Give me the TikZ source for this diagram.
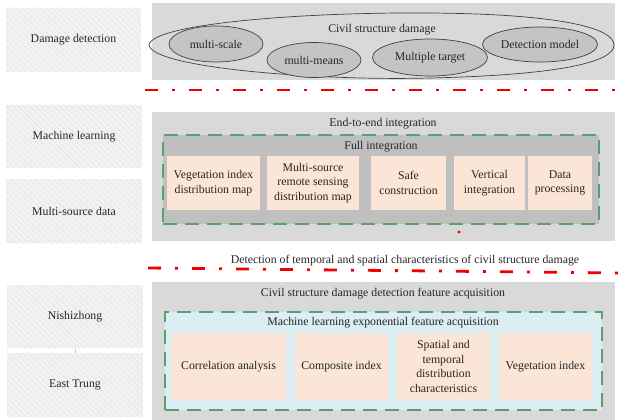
\documentclass[tikz,border=0pt]{standalone}
\usepackage{fontspec}
\setmainfont{Liberation Serif}
\usetikzlibrary{shapes.geometric,patterns.meta}
\definecolor{panelgray}{HTML}{D9D9D9}
\definecolor{innergray}{HTML}{BFBFBF}
\definecolor{innerblue}{HTML}{DAEEF3}
\definecolor{peach}{HTML}{FBE5D6}
\definecolor{dgreen}{HTML}{5A9E74}
\definecolor{ellgray}{HTML}{C4C4C4}
\definecolor{txtc}{HTML}{262626}
\begin{document}
\begin{tikzpicture}[x=1pt,y=-1pt,
  txt/.style={font=\fontsize{11.8}{14.5}\selectfont, text=txtc, align=center, inner sep=0pt},
  leftbox/.style={txt, draw=none, inner sep=0pt,
    preaction={fill=black!5},
    pattern={Lines[angle=-45,distance=4pt,line width=0.5pt]}, pattern color=black!13},
  panel/.style={fill=panelgray, inner sep=0pt, draw=none},
  dashgreen/.style={draw=dgreen, line width=2.2pt, dash pattern=on 14pt off 8pt, inner sep=0pt},
  peachbox/.style={txt, fill=peach, inner sep=0pt},
  ell/.style={txt, ellipse, draw=black!75, line width=0.7pt, inner sep=0pt},
  outline/.style={draw=black!75, line width=0.7pt},
  reddash/.style={draw=red!95!black, line width=2.8pt, dash pattern=on 13pt off 14pt on 3pt off 14pt}
]
\useasboundingbox (0,0) rectangle (622,420);
\fill[white] (0,0) rectangle (622,420);

% left column
\node[leftbox, minimum width=135, minimum height=64] (dd) at (73.5,40) {Damage detection};
\node[leftbox, minimum width=136, minimum height=63] (ml) at (74,136.5) {Machine learning};
\node[leftbox, minimum width=136, minimum height=64] (msd) at (74,211) {Multi-source data};
\node[leftbox, minimum width=136, minimum height=63] (nz) at (75,316.5) {Nishizhong};
\node[leftbox, minimum width=136, minimum height=64] (et) at (75,385) {East Trung};
\draw[draw=cyan!30!black!25, line width=0.8pt] (nz.south) -- (et.north);

% panel 1
\node[panel, minimum width=463, minimum height=77] (p1) at (383.5,41.5) {};
\draw[outline] (149,45) .. controls (152,24) and (300,12) .. (430,13)
  .. controls (560,14) and (614,28) .. (614,45)
  .. controls (614,62) and (560,75) .. (430,78)
  .. controls (320,81) and (152,68) .. (149,45) -- cycle;
\node[txt] (csd) at (382,30) {Civil structure damage};
\node[ell, fill=ellgray, minimum width=94, minimum height=36] (mscale) at (216,44) {multi-scale};
\node[ell, fill=ellgray, minimum width=94, minimum height=35] (mmeans) at (314,60) {multi-means};
\node[ell, fill=ellgray, minimum width=115, minimum height=37] (mtarget) at (430,57.5) {Multiple target};
\node[ell, fill=ellgray, minimum width=115, minimum height=35] (dmodel) at (540,44.5) {Detection model};

% red line 1
\coordinate (r1a) at (145,90);
\coordinate (r1b) at (622,90);
\draw[reddash] (r1a) -- (r1b);

% panel 2
\node[panel, minimum width=463, minimum height=129] (p2) at (383.5,176.5) {};
\node[txt] (e2e) at (383,124) {End-to-end integration};
\node[dashgreen, fill=innergray, minimum width=436, minimum height=89] (in2) at (381,179.5) {};
\node[txt] (full) at (381,147) {Full integration};
\node[peachbox, minimum width=93, minimum height=54] (veg) at (213.5,183) {Vegetation index\\distribution map};
\node[peachbox, minimum width=92, minimum height=54] (msr) at (313,183) {Multi-source\\remote sensing\\distribution map};
\node[peachbox, minimum width=75, minimum height=54] (safe) at (408.5,183) {Safe\\construction};
\node[peachbox, minimum width=71, minimum height=54] (vert) at (489.5,183) {Vertical\\integration};
\node[peachbox, minimum width=64, minimum height=54] (data) at (560,183) {Data\\processing};
\fill[red!95!black] (459,232) circle (1.6);

% middle caption and red line 2
\node[txt] (det) at (405,261) {Detection of temporal and spatial characteristics of civil structure damage};
\coordinate (r2a) at (148,268);
\coordinate (r2b) at (622,273);
\draw[reddash] (r2a) -- (r2b);

% panel 3
\node[panel, minimum width=463, minimum height=138] (p3) at (383.5,351) {};
\node[txt] (cfa) at (383,294) {Civil structure damage detection feature acquisition};
\node[dashgreen, fill=innerblue, minimum width=437, minimum height=98] (in3) at (383.5,361) {};
\node[txt] (mlf) at (383,323) {Machine learning exponential feature acquisition};
\node[peachbox, minimum width=115, minimum height=67] (corr) at (228.5,366.5) {Correlation analysis};
\node[peachbox, minimum width=93, minimum height=67] (comp) at (341.5,366.5) {Composite index};
\node[peachbox, minimum width=93, minimum height=67] (spat) at (443.5,366.5) {Spatial and\\temporal\\distribution\\characteristics};
\node[peachbox, minimum width=93, minimum height=67] (vegi) at (545.5,366.5) {Vegetation index};
\end{tikzpicture}
\end{document}
